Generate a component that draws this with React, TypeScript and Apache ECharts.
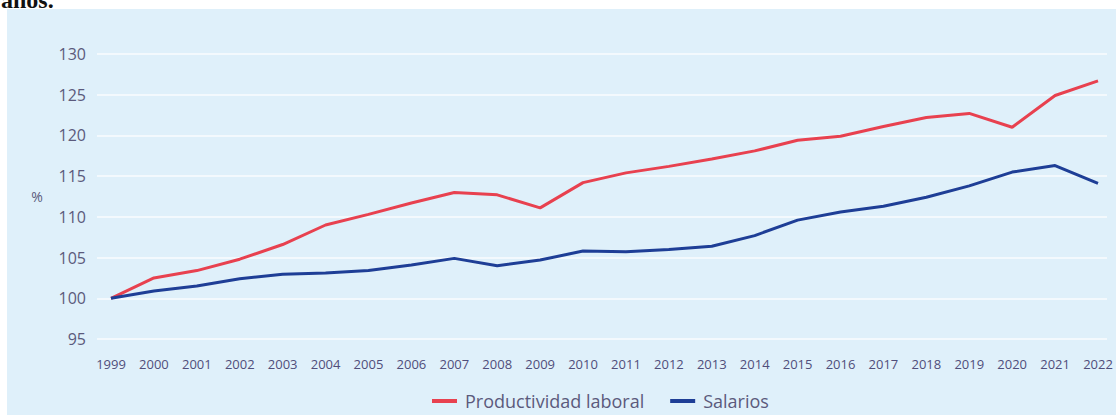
import React, { useEffect, useRef } from "react";
import * as echarts from "echarts";

const years = ["1999","2000","2001","2002","2003","2004","2005","2006","2007","2008","2009","2010","2011","2012","2013","2014","2015","2016","2017","2018","2019","2020","2021","2022"];
const productividad = [100, 102.5, 103.4, 104.8, 106.6, 109.0, 110.3, 111.7, 113.0, 112.7, 111.1, 114.2, 115.4, 116.2, 117.1, 118.1, 119.4, 119.9, 121.1, 122.2, 122.7, 121.0, 124.9, 126.7];
const salarios = [100, 100.9, 101.5, 102.4, 102.95, 103.1, 103.4, 104.1, 104.9, 104.0, 104.7, 105.8, 105.7, 106.0, 106.4, 107.7, 109.6, 110.6, 111.3, 112.4, 113.8, 115.5, 116.3, 114.1];
const yMin = 95;
const yMax = 130;
const yStep = 5;

const textColor = "#5b5a7c";

export default function App() {
  const ref = useRef<HTMLDivElement>(null);
  useEffect(() => {
    if (!ref.current) return;
    const chart = echarts.init(ref.current, undefined, { renderer: "svg" });
    chart.setOption({
      animation: false,
      backgroundColor: "#ffffff",
      graphic: [
        { type: "rect", z: -10, shape: { x: 7, y: 9, width: 1109, height: 406 }, style: { fill: "#dff0fa" } },
        { type: "text", x: 1, y: 12, style: { text: "años.", font: "bold 24px 'Liberation Serif', serif", fill: "#111", verticalAlign: "bottom" } },
        { type: "text", x: 37, y: 196, style: { text: "%", font: "14px 'Open Sans'", fill: textColor, align: "center", verticalAlign: "middle" } },
      ],
      legend: {
        left: 432,
        top: 390,
        padding: 0,
        itemWidth: 25,
        itemHeight: 4,
        itemGap: 26,
        icon: "rect",
        textStyle: { color: textColor, fontSize: 18, lineHeight: 22, fontFamily: "Open Sans", padding: [0, 0, 0, 3] },
        data: ["Productividad laboral", "Salarios"],
      },
      grid: [
        { left: 97, right: 9, top: 54, bottom: 76 },
        { left: 111, right: 18, top: 54, bottom: 76 },
      ],
      xAxis: [
        { gridIndex: 0, type: "value", min: 0, max: 1, show: false },
        {
          gridIndex: 1,
          type: "category",
          data: years,
          boundaryGap: false,
          axisLine: { show: false },
          axisTick: { show: false },
          axisLabel: { color: "#504e7a", fontSize: 13, fontFamily: "Open Sans", margin: 18, interval: 0 },
        },
      ],
      yAxis: [
        {
          gridIndex: 0,
          type: "value",
          min: yMin,
          max: yMax,
          interval: yStep,
          axisLine: { show: false },
          axisTick: { show: false },
          axisLabel: { color: textColor, fontSize: 16, fontFamily: "Open Sans", margin: 11 },
          splitLine: { lineStyle: { color: "#f3f9fd", width: 2 } },
        },
        {
          gridIndex: 1,
          type: "value",
          min: yMin,
          max: yMax,
          interval: yStep,
          show: false,
          splitLine: { show: false },
        },
      ],
      series: [
        {
          name: "Productividad laboral",
          type: "line",
          xAxisIndex: 1,
          yAxisIndex: 1,
          data: productividad,
          showSymbol: false,
          symbol: "none",
          color: "#e8414f",
          lineStyle: { width: 3, color: "#e8414f" },
        },
        {
          name: "Salarios",
          type: "line",
          xAxisIndex: 1,
          yAxisIndex: 1,
          data: salarios,
          showSymbol: false,
          symbol: "none",
          color: "#1e3e96",
          lineStyle: { width: 3, color: "#1e3e96" },
        },
      ],
    });
    return () => chart.dispose();
  }, []);
  return <div ref={ref} style={{ position: "absolute", left: 0, top: 0, width: 1116, height: 415 }} />;
}
